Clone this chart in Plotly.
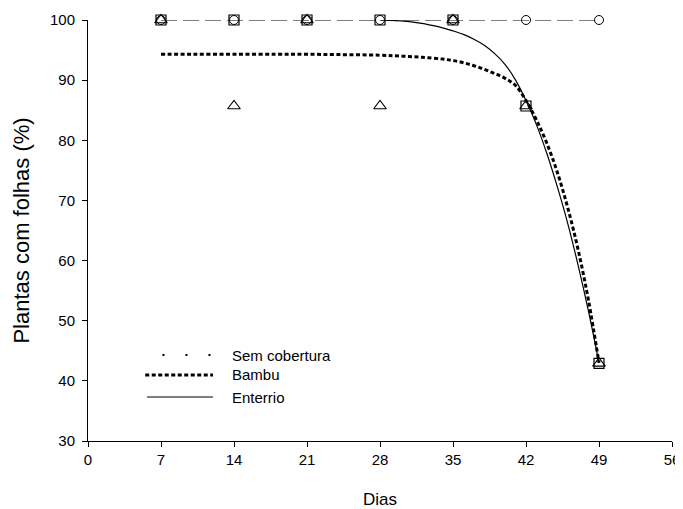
import plotly.graph_objects as go

# Observed data
dias = [7, 14, 21, 28, 35, 42, 49]
sem_cobertura = [100, 100, 100, 100, 100, 100, 100]
bambu = [100, 85.7, 100, 85.7, 100, 85.7, 42.9]
enterrio = [100, 100, 100, 100, 100, 85.7, 42.9]

# Fitted curves
bambu_fit_x = [7, 10, 14, 18, 21, 24, 28, 30, 32, 34, 35, 36, 37, 38, 39, 40, 41, 42, 43, 44, 45, 46, 47, 48, 49]
bambu_fit_y = [94.3, 94.3, 94.3, 94.3, 94.3, 94.25, 94.15, 94.0, 93.8, 93.5, 93.25, 92.9, 92.4, 91.8, 91.1, 90.3, 89.1, 86.6, 83.4, 79.5, 74.7, 68.8, 61.8, 53.3, 43.0]
enterrio_fit_x = [28, 29, 30, 31, 32, 33, 34, 35, 36, 37, 38, 39, 40, 41, 42, 43, 44, 45, 46, 47, 48, 49]
enterrio_fit_y = [100, 99.95, 99.85, 99.7, 99.45, 99.1, 98.7, 98.2, 97.6, 96.8, 95.8, 94.4, 92.6, 90.0, 86.6, 82.6, 77.8, 72.3, 66.2, 59.2, 51.5, 43.0]

legend_labels = ["Sem cobertura", "Bambu", "Enterrio"]
x_ticks = [0, 7, 14, 21, 28, 35, 42, 49, 56]
y_ticks = [30, 40, 50, 60, 70, 80, 90, 100]

FONT = "Arial, 'Liberation Sans', sans-serif"

fig = go.Figure()

# Lines
fig.add_trace(go.Scatter(x=dias, y=sem_cobertura, mode="lines",
                         line=dict(color="black", width=1, dash="16px,6px"),
                         showlegend=False, cliponaxis=False))
fig.add_trace(go.Scatter(x=bambu_fit_x, y=bambu_fit_y, mode="lines", line_shape="spline",
                         line=dict(color="black", width=3, dash="4px,2.5px"),
                         showlegend=False, cliponaxis=False))
fig.add_trace(go.Scatter(x=enterrio_fit_x, y=enterrio_fit_y, mode="lines", line_shape="spline",
                         line=dict(color="black", width=1.2),
                         showlegend=False, cliponaxis=False))

# Markers
fig.add_trace(go.Scatter(x=dias, y=enterrio, mode="markers",
                         marker=dict(symbol="square-open", size=10, color="black", line=dict(width=1.2)),
                         showlegend=False, cliponaxis=False))
fig.add_trace(go.Scatter(x=dias, y=bambu, mode="markers",
                         marker=dict(symbol="triangle-up-open", size=11, color="black", line=dict(width=1.1)),
                         showlegend=False, cliponaxis=False))
fig.add_trace(go.Scatter(x=dias, y=sem_cobertura, mode="markers",
                         marker=dict(symbol="circle-open", size=9, color="black", line=dict(width=1)),
                         showlegend=False, cliponaxis=False))

# Manual legend (paper coordinates)
leg_y = [0.204, 0.157, 0.1045]
leg_styles = [dict(width=2, dash="2px,21px"), dict(width=3, dash="4px,2.5px"), dict(width=1, dash="solid")]
leg_x0 = [0.1275, 0.098, 0.101]
shapes = []
annotations = []
for lab, yy, st, x0 in zip(legend_labels, leg_y, leg_styles, leg_x0):
    shapes.append(dict(type="line", xref="paper", yref="paper", x0=x0, x1=0.214, y0=yy, y1=yy,
                       line=dict(color="black", **st)))
    annotations.append(dict(xref="paper", yref="paper", x=0.2436, y=yy, text=lab, showarrow=False,
                            xanchor="left", yanchor="middle", font=dict(family=FONT, size=15, color="black")))

fig.update_layout(
    width=675, height=501,
    margin=dict(l=80, r=11, t=12, b=68),
    paper_bgcolor="white", plot_bgcolor="white",
    font=dict(family=FONT, size=15, color="black"),
    shapes=shapes, annotations=annotations,
    showlegend=False,
)
fig.update_xaxes(range=[0, 56], tickmode="array", tickvals=x_ticks, automargin=False,
                 showline=True, linecolor="black", linewidth=1, ticks="outside", ticklen=5,
                 tickcolor="black", showgrid=False, zeroline=False, tickfont=dict(size=15),
                 title=dict(text="Dias", font=dict(size=17), standoff=27))
fig.update_yaxes(range=[30, 100], tickmode="array", tickvals=y_ticks, automargin=False,
                 showline=True, linecolor="black", linewidth=1, ticks="outside", ticklen=5,
                 tickcolor="black", showgrid=False, zeroline=False, tickfont=dict(size=15),
                 ticklabelstandoff=4,
                 title=dict(text="Plantas com folhas (%)", font=dict(size=22), standoff=14))

fig.write_html("out.html")
